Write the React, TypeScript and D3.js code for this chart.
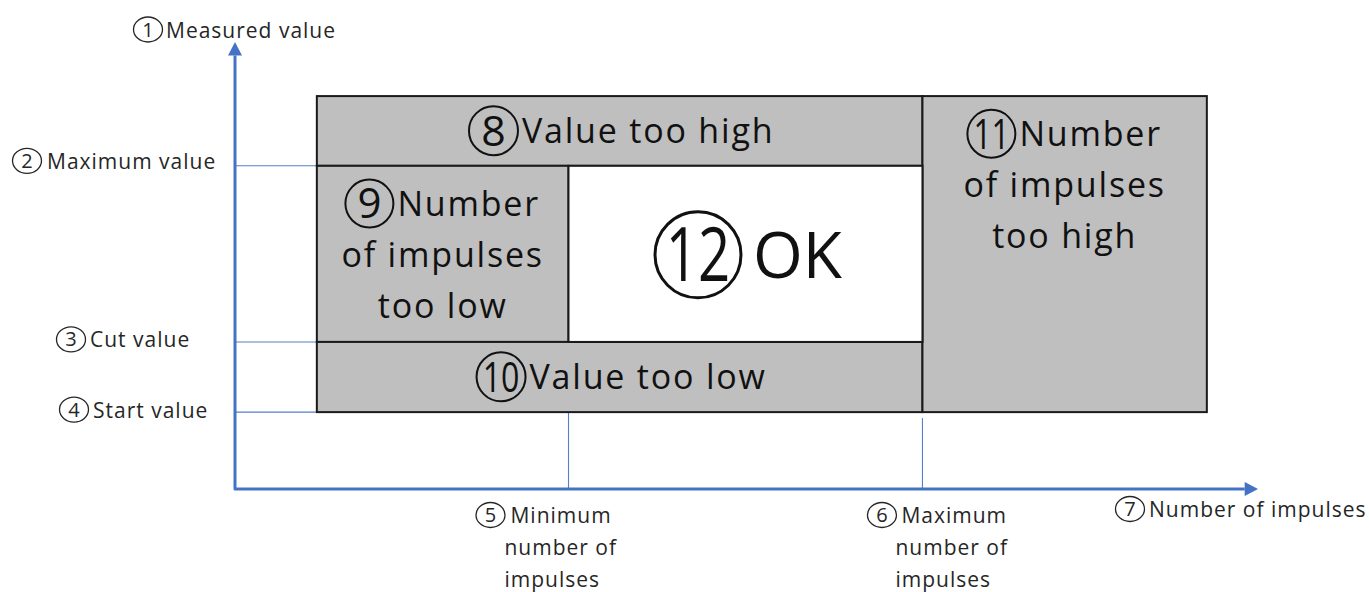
import React, { useRef, useEffect } from 'react';
import * as d3 from 'd3';

// thresholds on the two axes (conceptual units 0..100)
const impulseKeys = ['boxStart', 'minImpulses', 'maxImpulses', 'boxEnd'];
const impulseValues = [8.0, 32.6, 67.2, 95.0];
const valueKeys = ['startValue', 'cutValue', 'maxValue', 'boxTop'];
const valueLevels = [17.2, 32.9, 72.3, 87.9];

const X = Object.fromEntries(impulseKeys.map((k, i) => [k, impulseValues[i]]));
const Y = Object.fromEntries(valueKeys.map((k, i) => [k, valueLevels[i]]));

// zones of the diagram
const zoneNums = ['8', '9', '10', '11', '12'];
const zoneLines = [
  ['Value too high'],
  ['Number', 'of impulses', 'too low'],
  ['Value too low'],
  ['Number', 'of impulses', 'too high'],
  ['OK'],
];
const zoneX = [
  [X.boxStart, X.maxImpulses],
  [X.boxStart, X.minImpulses],
  [X.boxStart, X.maxImpulses],
  [X.maxImpulses, X.boxEnd],
  [X.minImpulses, X.maxImpulses],
];
const zoneY = [
  [Y.maxValue, Y.boxTop],
  [Y.cutValue, Y.maxValue],
  [Y.startValue, Y.cutValue],
  [Y.startValue, Y.boxTop],
  [Y.cutValue, Y.maxValue],
];
const zoneFill = ['#bfbfbf', '#bfbfbf', '#bfbfbf', '#bfbfbf', '#ffffff'];

// axis annotations
const yLabelNums = ['2', '3', '4'];
const yLabelText = ['Maximum value', 'Cut value', 'Start value'];
const yLabelLevels = [Y.maxValue, Y.cutValue, Y.startValue];
const xLabelNums = ['5', '6'];
const xLabelText = [
  ['Minimum', 'number of', 'impulses'],
  ['Maximum', 'number of', 'impulses'],
];
const xLabelLevels = [X.minImpulses, X.maxImpulses];

const FONT = '"Open Sans", "Noto Sans", sans-serif';
const AXIS = '#4472c4';

const App: React.FC = () => {
  const svgRef = useRef<SVGSVGElement>(null);
  const width = 1369;
  const height = 592;

  useEffect(() => {
    if (!svgRef.current) return;
    const svg = d3.select(svgRef.current);
    svg.selectAll('*').remove();

    const xScale = d3.scaleLinear().domain([0, 100]).range([235, 1258]);
    const yScale = d3.scaleLinear().domain([0, 100]).range([489, 42]);

    const g = svg.append('g');

    // small circled label (number in an ellipse, then text)
    const smallLabel = (cx: number, cy: number, num: string, lines: string[], textX: number) => {
      const lg = g.append('g');
      lg.append('ellipse')
        .attr('cx', cx).attr('cy', cy)
        .attr('rx', 14.5).attr('ry', 12.5)
        .style('fill', 'none').style('stroke', '#262626').style('stroke-width', 1.3);
      lg.append('text')
        .attr('x', cx).attr('y', cy + 7)
        .attr('text-anchor', 'middle')
        .style('font-family', FONT).style('font-size', '20px').style('fill', '#262626')
        .text(num);
      lines.forEach((t, i) => {
        lg.append('text')
          .attr('x', i === 0 ? textX : textX + (lines.length > 1 ? -6 : 0))
          .attr('y', cy + 8 + i * 32)
          .style('font-family', FONT).style('font-size', '21px')
          .style('letter-spacing', '1px').style('fill', '#262626')
          .text(t);
      });
    };

    // big circled label, first line (circle + text) centred on cx
    const bigLabel = (cx: number, baseline: number, num: string, text: string, size: number, r: number, gap: number) => {
      const lg = g.append('g');
      const t = lg.append('text')
        .attr('y', baseline)
        .style('font-family', FONT).style('font-size', `${size}px`)
        .style('letter-spacing', size > 40 ? '0px' : '1.8px').style('fill', '#111')
        .text(text);
      const tw = (t.node() as SVGTextElement).getComputedTextLength();
      const total = 2 * r + gap + tw;
      const x0 = cx - total / 2;
      const ccy = baseline - size * 0.36;
      t.attr('x', x0 + 2 * r + gap);
      lg.append('circle')
        .attr('cx', x0 + r).attr('cy', ccy).attr('r', r)
        .style('fill', 'none').style('stroke', '#111').style('stroke-width', size > 40 ? 3 : 2);
      const dt = lg.append('text')
        .attr('x', x0 + r).attr('y', ccy + r * 0.62)
        .attr('text-anchor', 'middle')
        .style('font-family', FONT).style('font-size', `${r * 1.75}px`).style('fill', '#111')
        .text(num);
      if (num.length > 1) {
        dt.attr('textLength', r * 1.5).attr('lengthAdjust', 'spacingAndGlyphs');
      }
    };

    // reference lines
    const ref = g.append('g').style('stroke', AXIS).style('stroke-width', 1.1).style('opacity', 0.9);
    [Y.maxValue, Y.cutValue, Y.startValue].forEach(v => {
      ref.append('line')
        .attr('x1', xScale(0)).attr('x2', xScale(X.boxStart))
        .attr('y1', yScale(v)).attr('y2', yScale(v));
    });
    ref.append('line')
      .attr('x1', xScale(X.minImpulses)).attr('x2', xScale(X.minImpulses))
      .attr('y1', yScale(Y.startValue)).attr('y2', yScale(0));
    ref.append('line')
      .attr('x1', xScale(X.maxImpulses)).attr('x2', xScale(X.maxImpulses))
      .attr('y1', yScale(Y.startValue) + 6).attr('y2', yScale(0));

    // zones
    zoneNums.forEach((num, i) => {
      const [a, b] = zoneX[i];
      const [lo, hi] = zoneY[i];
      g.append('rect')
        .attr('x', xScale(a)).attr('y', yScale(hi))
        .attr('width', xScale(b) - xScale(a))
        .attr('height', yScale(lo) - yScale(hi))
        .style('fill', zoneFill[i]).style('stroke', '#1a1a1a').style('stroke-width', 2);
    });

    zoneNums.forEach((num, i) => {
      const [a, b] = zoneX[i];
      const [lo, hi] = zoneY[i];
      const cx = (xScale(a) + xScale(b)) / 2;
      const lines = zoneLines[i];
      if (num === '12') {
        bigLabel(cx + 3, (yScale(lo) + yScale(hi)) / 2 + 24, num, lines[0], 64, 43, 12);
      } else if (lines.length === 1) {
        bigLabel(cx + 2, (yScale(lo) + yScale(hi)) / 2 + 12, num, lines[0], 34, 24.5, 4);
      } else {
        const top = yScale(hi);
        bigLabel(cx, top + 50, num, lines[0], 34, 24, 4);
        lines.slice(1).forEach((t, j) => {
          g.append('text')
            .attr('x', cx).attr('y', top + 50 + (j + 1) * 51)
            .attr('text-anchor', 'middle')
            .style('font-family', FONT).style('font-size', '34px')
            .style('letter-spacing', '1.8px').style('fill', '#111')
            .text(t);
        });
      }
    });

    // axes
    const axis = g.append('g');
    axis.append('path')
      .attr('d', `M${xScale(0)},${yScale(97)} L${xScale(0)},${yScale(0)} L${xScale(98.7)},${yScale(0)}`)
      .style('fill', 'none').style('stroke', AXIS).style('stroke-width', 3)
      .style('stroke-linejoin', 'round');
    axis.append('path')
      .attr('d', `M${xScale(0)},${yScale(100)} L${xScale(0) - 7},${yScale(97)} L${xScale(0) + 7},${yScale(97)} Z`)
      .style('fill', AXIS);
    axis.append('path')
      .attr('d', `M${xScale(100)},${yScale(0)} L${xScale(98.7)},${yScale(0) - 7} L${xScale(98.7)},${yScale(0) + 7} Z`)
      .style('fill', AXIS);

    // axis titles
    smallLabel(148, yScale(100) - 12.5, '1', ['Measured value'], 166);
    smallLabel(1130, yScale(0) + 20, '7', ['Number of impulses'], 1149);

    const yLabelCx = [27, 71, 74];
    const yLabelX = [47, 90, 93];
    yLabelNums.forEach((n, i) => {
      smallLabel(yLabelCx[i], yScale(yLabelLevels[i]) - (i === 0 ? 5 : 2.5), n, [yLabelText[i]], yLabelX[i]);
    });

    const xLabelOffset = [-78, -40.5];
    xLabelNums.forEach((n, i) => {
      const cx = xScale(xLabelLevels[i]) + xLabelOffset[i];
      smallLabel(cx, yScale(0) + 26, n, xLabelText[i], cx + (i === 0 ? 20 : 19.5));
    });
  }, []);

  return (
    <svg
      ref={svgRef}
      width={width}
      height={height}
      style={{ position: 'absolute', left: 0, top: 0, background: '#fff' }}
    />
  );
};

export default App;
